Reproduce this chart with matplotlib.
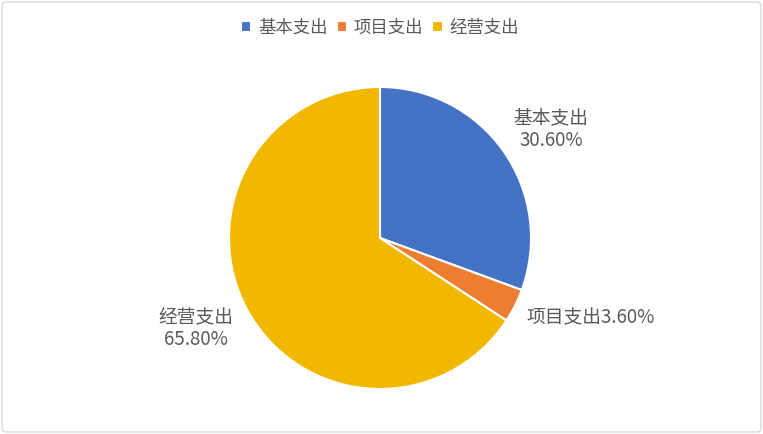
import matplotlib
matplotlib.use("Agg")
import matplotlib.pyplot as plt
from matplotlib.patches import FancyBboxPatch

plt.rcParams["font.family"] = ["Noto Sans CJK SC", "DejaVu Sans"]

categories = ["基本支出", "项目支出", "经营支出"]
shares = [30.6, 3.6, 65.8]
colors = ["#4472C4", "#ED7D31", "#F2B800"]
text_color = "#595959"

W, H = 763, 434
fig = plt.figure(figsize=(W / 100, H / 100), dpi=100)
ax = fig.add_axes([0, 0, 1, 1])

# outer frame
ax.add_patch(FancyBboxPatch((2, 2), W - 4, H - 4, boxstyle="round,pad=0,rounding_size=4",
                            fill=False, edgecolor="#D9D9D9", linewidth=1))

wedges, _ = ax.pie(
    shares,
    colors=colors,
    startangle=90,
    counterclock=False,
    center=(380, H - 238),
    radius=151,
    wedgeprops=dict(edgecolor="white", linewidth=1.5),
    frame=True,
)
ax.set_xlim(0, W)
ax.set_ylim(0, H)
ax.set_aspect("equal")
ax.axis("off")

# data labels
lab = dict(fontsize=13.5, color=text_color, linespacing=1.15)
ax.text(551, H - 129, f"{categories[0]}\n{shares[0]:.2f}%", ha="center", va="center", **lab)
ax.text(526, H - 318, f"{categories[1]}{shares[1]:.2f}%", ha="left", va="center", **lab)
ax.text(196, H - 328, f"{categories[2]}\n{shares[2]:.2f}%", ha="center", va="center", **lab)

leg = ax.legend(wedges, categories, loc="center", bbox_to_anchor=(380 / W, 1 - 28 / H),
                ncol=3, frameon=False, fontsize=12.5, handlelength=0.6, handleheight=0.6,
                handletextpad=0.4, columnspacing=0.5)
for t in leg.get_texts():
    t.set_color(text_color)

fig.savefig("out.png", dpi=100)
